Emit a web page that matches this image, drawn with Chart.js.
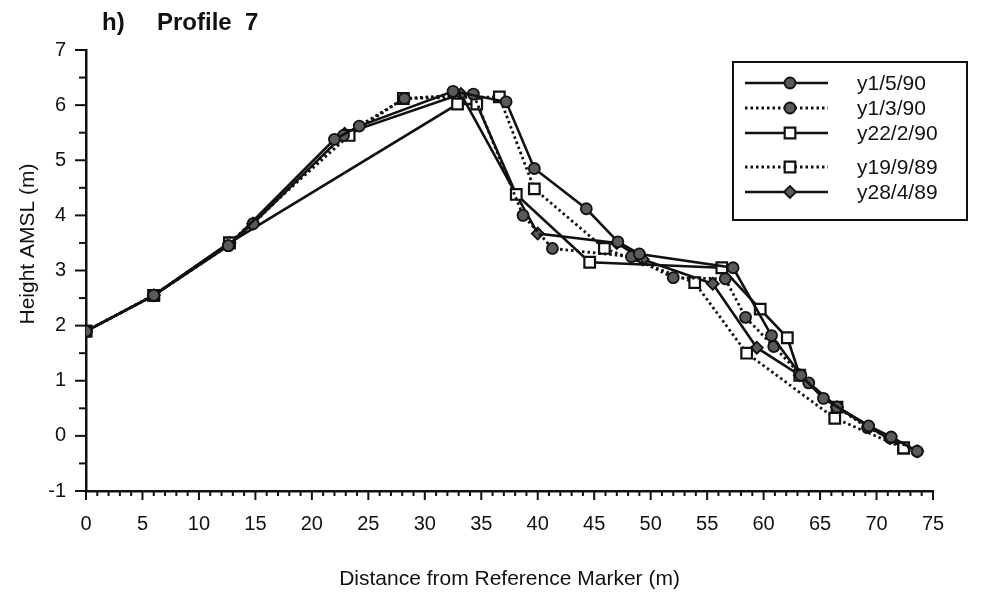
<!DOCTYPE html>
<html>
<head>
<meta charset="utf-8">
<script src="https://cdn.jsdelivr.net/npm/chart.js@4.4.1/dist/chart.umd.min.js"></script>
<style>
	html, body { margin: 0; padding: 0; background: #fff; }
	#wrap { width: 981px; height: 595px; }
</style>
</head>
<body>
<div id="wrap"><canvas id="profile-chart" width="981" height="595"></canvas></div>
<script>
const seriesLabels = ['y1/5/90', 'y1/3/90', 'y22/2/90', 'y19/9/89', 'y28/4/89']

// distance (m) / height AMSL (m)
const dist_1_5_90 = [0, 6, 12.6, 22.0, 24.2, 32.5, 37.2, 39.7, 44.3, 47.1, 49.0, 57.3, 60.7, 63.3, 65.3, 69.3, 71.3, 73.6]
const height_1_5_90 = [1.9, 2.55, 3.45, 5.38, 5.62, 6.25, 6.06, 4.85, 4.12, 3.52, 3.3, 3.05, 1.82, 1.1, 0.68, 0.18, -0.02, -0.28]

const dist_1_3_90 = [0, 6, 12.6, 14.8, 22.8, 28.2, 34.3, 38.7, 41.3, 48.3, 52.0, 56.6, 58.4, 60.9, 64.0, 66.5, 69.2, 71.2, 73.6]
const height_1_3_90 = [1.9, 2.55, 3.45, 3.85, 5.45, 6.12, 6.2, 4.0, 3.4, 3.25, 2.87, 2.85, 2.15, 1.62, 0.96, 0.52, 0.15, -0.04, -0.28]

const dist_22_2_90 = [0, 6, 12.7, 32.9, 34.6, 38.1, 44.6, 56.3, 59.7, 62.1, 63.2, 66.5, 72.4]
const height_22_2_90 = [1.9, 2.55, 3.5, 6.02, 6.02, 4.38, 3.15, 3.05, 2.3, 1.78, 1.1, 0.52, -0.22]

const dist_19_9_89 = [0, 6, 12.7, 23.3, 28.1, 36.6, 39.7, 45.9, 53.9, 58.5, 66.3, 72.4]
const height_19_9_89 = [1.9, 2.55, 3.5, 5.45, 6.12, 6.15, 4.48, 3.4, 2.78, 1.5, 0.32, -0.22]

const dist_28_4_89 = [0, 6, 12.7, 14.8, 22.9, 33.2, 40.0, 47.0, 49.3, 55.5, 59.4, 63.2, 66.5, 71.2, 73.6]
const height_28_4_89 = [1.9, 2.55, 3.5, 3.85, 5.48, 6.2, 3.67, 3.5, 3.2, 2.76, 1.6, 1.1, 0.52, -0.04, -0.28]

const xMin = 0
const xMax = 75
const yMin = -1
const yMax = 7

const FONT = '"Liberation Sans", Arial, sans-serif'
const INK = '#111'

function toPoints(xs, ys) {
	return xs.map((x, i) => ({ x: x, y: ys[i] }))
}

function makeSet(label, xs, ys, dotted, style) {
	const set = {
		label: label,
		data: toPoints(xs, ys),
		showLine: true,
		tension: 0,
		borderColor: INK,
		borderWidth: dotted ? 2.8 : 2.6,
		borderDash: dotted ? [2.5, 3] : [],
		pointBorderColor: INK,
		pointBorderWidth: 1.8,
	}
	if (style === 'circle') {
		set.pointStyle = 'circle'
		set.pointRadius = 5.5
		set.pointBackgroundColor = '#5a5a5a'
	} else if (style === 'square') {
		set.pointStyle = 'rect'
		set.pointRadius = 7.5
		set.pointBackgroundColor = '#fff'
		set.pointBorderWidth = 2.2
	} else {
		set.pointStyle = 'rectRot'
		set.pointRadius = 6
		set.pointBackgroundColor = '#5a5a5a'
	}
	return set
}

const datasets = [
	makeSet(seriesLabels[0], dist_1_5_90, height_1_5_90, false, 'circle'),
	makeSet(seriesLabels[1], dist_1_3_90, height_1_3_90, true, 'circle'),
	makeSet(seriesLabels[2], dist_22_2_90, height_22_2_90, false, 'square'),
	makeSet(seriesLabels[3], dist_19_9_89, height_19_9_89, true, 'square'),
	makeSet(seriesLabels[4], dist_28_4_89, height_28_4_89, false, 'diamond'),
]

// tick marks, titles and boxed legend
const extras = {
	id: 'extras',
	afterDraw(chart) {
		const ctx = chart.ctx
		const area = chart.chartArea
		const xs = chart.scales.x
		const ys = chart.scales.y
		ctx.save()
		ctx.strokeStyle = INK
		ctx.lineWidth = 2

		xs.ticks.forEach(t => {
			const px = xs.getPixelForValue(t.value)
			const len = t.value % 5 === 0 ? 9 : 5
			ctx.beginPath()
			ctx.moveTo(px, area.bottom)
			ctx.lineTo(px, area.bottom + len)
			ctx.stroke()
		})
		ys.ticks.forEach(t => {
			const py = ys.getPixelForValue(t.value)
			const len = Number.isInteger(t.value) ? 11 : 7
			ctx.beginPath()
			ctx.moveTo(area.left, py)
			ctx.lineTo(area.left - len, py)
			ctx.stroke()
		})

		// title
		ctx.fillStyle = INK
		ctx.font = 'bold 24px ' + FONT
		ctx.textBaseline = 'alphabetic'
		ctx.textAlign = 'left'
		ctx.fillText('h)', 102, 30)
		ctx.fillText('Profile  7', 157, 30)

		// y axis title
		ctx.save()
		ctx.font = '21px ' + FONT
		ctx.textAlign = 'center'
		ctx.textBaseline = 'middle'
		ctx.translate(28, 244)
		ctx.rotate(-Math.PI / 2)
		ctx.fillText('Height AMSL (m)', 0, 0)
		ctx.restore()

		// legend
		const box = { left: 733, top: 62, right: 967, bottom: 220 }
		ctx.lineWidth = 2
		ctx.strokeRect(box.left, box.top, box.right - box.left, box.bottom - box.top)
		const rows = [83, 108, 133, 167, 192]
		ctx.font = '21px ' + FONT
		ctx.textBaseline = 'middle'
		chart.data.datasets.forEach((ds, i) => {
			const y = rows[i]
			ctx.save()
			ctx.strokeStyle = ds.borderColor
			ctx.lineWidth = ds.borderWidth
			ctx.setLineDash(ds.borderDash)
			ctx.beginPath()
			ctx.moveTo(745, y)
			ctx.lineTo(828, y)
			ctx.stroke()
			ctx.setLineDash([])
			ctx.fillStyle = ds.pointBackgroundColor
			ctx.strokeStyle = ds.pointBorderColor
			ctx.lineWidth = ds.pointBorderWidth
			Chart.helpers.drawPoint(ctx, {
				pointStyle: ds.pointStyle,
				radius: ds.pointRadius,
				rotation: 0,
				borderWidth: ds.pointBorderWidth,
			}, 790, y)
			ctx.restore()
			ctx.fillStyle = INK
			ctx.fillText(ds.label, 857, y + 1)
		})
		ctx.restore()
	},
}

const ctxProfile = document.getElementById('profile-chart').getContext('2d')
new Chart(ctxProfile, {
	type: 'scatter',
	data: { datasets: datasets },
	options: {
		responsive: false,
		animation: false,
		devicePixelRatio: 1,
		layout: { padding: { top: 50, right: 48, left: 0, bottom: 0 } },
		plugins: {
			legend: { display: false },
			tooltip: { enabled: false },
		},
		scales: {
			x: {
				type: 'linear',
				min: xMin,
				max: xMax,
				afterFit: scale => { scale.height = 104 },
				border: { display: true, color: INK, width: 2.5 },
				grid: { drawOnChartArea: false, drawTicks: true, tickLength: 8, color: 'rgba(0,0,0,0)' },
				ticks: {
					stepSize: 1,
					autoSkip: false,
					maxRotation: 0,
					padding: 13,
					color: INK,
					font: { family: FONT, size: 20 },
					callback: v => (v % 5 === 0 ? v : ''),
				},
				title: {
					display: true,
					text: 'Distance from Reference Marker (m)',
					color: INK,
					font: { family: FONT, size: 21 },
					padding: { top: 0, bottom: 3 },
				},
			},
			y: {
				min: yMin,
				max: yMax,
				afterFit: scale => { scale.width = 86 },
				border: { display: true, color: INK, width: 2.5 },
				grid: { drawOnChartArea: false, drawTicks: true, tickLength: 11, color: 'rgba(0,0,0,0)' },
				ticks: {
					stepSize: 0.5,
					autoSkip: false,
					padding: 9,
					color: INK,
					font: { family: FONT, size: 20 },
					callback: v => (Number.isInteger(v) ? v : ''),
				},
			},
		},
	},
	plugins: [extras],
})
</script>
</body>
</html>
